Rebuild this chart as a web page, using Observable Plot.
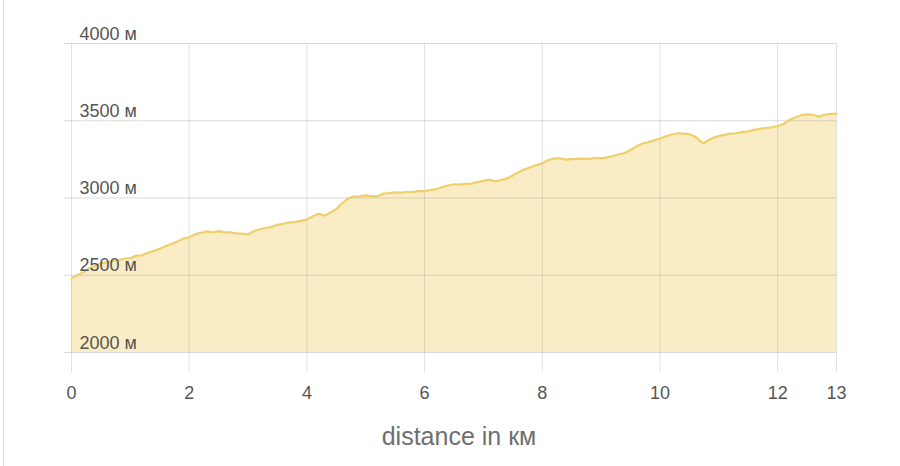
<!DOCTYPE html>
<html>
<head>
<meta charset="utf-8">
<script src="https://cdn.jsdelivr.net/npm/d3@7"></script>
<script src="https://cdn.jsdelivr.net/npm/@observablehq/plot@0.6"></script>
<style>
  html, body { margin: 0; padding: 0; background: #fff; }
  #wrap { position: relative; width: 900px; height: 466px; }
  #border { position: absolute; left: 3px; top: 0; width: 1px; height: 466px; background: #dcdcdc; }
</style>
</head>
<body>
<div id="wrap"><div id="border"></div></div>
<script>
// distance along route (km)
const distanceKm = [
  0.0, 0.1, 0.2, 0.3, 0.4, 0.5, 0.6, 0.7, 0.8, 0.9,
  1.0, 1.1, 1.2, 1.3, 1.4, 1.5, 1.6, 1.7, 1.8, 1.9,
  2.0, 2.1, 2.2, 2.3, 2.4, 2.5, 2.6, 2.7, 2.8, 2.9,
  3.0, 3.1, 3.2, 3.3, 3.4, 3.5, 3.6, 3.7, 3.8, 3.9,
  4.0, 4.1, 4.2, 4.3, 4.4, 4.5, 4.6, 4.7, 4.8, 4.9,
  5.0, 5.1, 5.2, 5.3, 5.4, 5.5, 5.6, 5.7, 5.8, 5.9,
  6.0, 6.1, 6.2, 6.3, 6.4, 6.5, 6.6, 6.7, 6.8, 6.9,
  7.0, 7.1, 7.2, 7.3, 7.4, 7.5, 7.6, 7.7, 7.8, 7.9,
  8.0, 8.1, 8.2, 8.3, 8.4, 8.5, 8.6, 8.7, 8.8, 8.9,
  9.0, 9.1, 9.2, 9.3, 9.4, 9.5, 9.6, 9.7, 9.8, 9.9,
  10.0, 10.1, 10.2, 10.3, 10.4, 10.5, 10.6, 10.7, 10.75, 10.8, 10.9,
  11.0, 11.1, 11.2, 11.3, 11.4, 11.5, 11.6, 11.7, 11.8, 11.9,
  12.0, 12.1, 12.2, 12.3, 12.4, 12.5, 12.6, 12.7, 12.8, 12.9, 13.0
];
// elevation (m)
const elevationM = [
  2480, 2502, 2518, 2546, 2558, 2577, 2583, 2592, 2598, 2607,
  2610, 2627, 2629, 2646, 2658, 2672, 2688, 2702, 2718, 2737,
  2745, 2766, 2774, 2784, 2777, 2786, 2779, 2777, 2771, 2769,
  2764, 2786, 2798, 2806, 2813, 2827, 2833, 2842, 2844, 2852,
  2860, 2882, 2898, 2886, 2906, 2928, 2966, 2997, 3009, 3011,
  3017, 3011, 3010, 3029, 3031, 3036, 3035, 3039, 3039, 3044,
  3045, 3051, 3057, 3071, 3081, 3089, 3087, 3091, 3093, 3103,
  3111, 3119, 3107, 3116, 3125, 3146, 3167, 3186, 3199, 3213,
  3224, 3246, 3256, 3256, 3249, 3251, 3255, 3253, 3253, 3259,
  3257, 3263, 3271, 3283, 3291, 3311, 3334, 3353, 3361, 3373,
  3384, 3399, 3411, 3419, 3417, 3413, 3397, 3363, 3355, 3369, 3389,
  3401, 3409, 3417, 3419, 3426, 3431, 3441, 3447, 3453, 3457,
  3466, 3479, 3506, 3521, 3536, 3541, 3539, 3527, 3539, 3544, 3545
];
const xTicks = [0, 2, 4, 6, 8, 10, 12, 13];
const yTicks = [2000, 2500, 3000, 3500, 4000];
const yUnit = "м";
const xLabel = "distance in км";

const data = distanceKm.map((d, i) => ({km: d, elev: elevationM[i]}));
const font = "'Liberation Sans', Arial, sans-serif";

const chart = Plot.plot({
  width: 900,
  height: 466,
  marginLeft: 71,
  marginRight: 64,
  marginTop: 43,
  marginBottom: 114,
  style: {fontFamily: font, background: "transparent"},
  x: {domain: [0, 13], axis: null},
  y: {domain: [2000, 4000], axis: null},
  marks: [
    Plot.areaY(data, {x: "km", y1: 2000, y2: "elev", fill: "#faedc6", curve: "linear"}),
    Plot.ruleX(xTicks, {x: d => d, y1: 4000, y2: 2000, stroke: "#888", strokeOpacity: 0.25}),
    Plot.ruleY(yTicks, {y: d => d, x1: 0, x2: 13, stroke: "#888", strokeOpacity: 0.3, insetLeft: -7}),
    Plot.lineY(data, {x: "km", y: "elev", stroke: "#efcf6a", strokeWidth: 2.2, strokeLinejoin: "round"}),
    Plot.axisX(xTicks, {
      tickSize: 20, tickPadding: 14, stroke: "#888", strokeOpacity: 0.25,
      fontSize: 18, fill: "#555", label: null, tickFormat: d => String(d)
    }),
    Plot.text(yTicks, {
      x: 0, y: d => d, text: d => `${d} ${yUnit}`,
      textAnchor: "start", lineAnchor: "bottom", dx: 8, dy: -4,
      fontSize: 18, fill: "#555"
    }),
    Plot.text([xLabel], {
      x: 6.5, y: 2000, text: d => d,
      dx: 5, dy: 84, fontSize: 25, fill: "#6f6f6f", lineAnchor: "middle"
    })
  ]
});
chart.style.position = "absolute";
chart.style.left = "0";
chart.style.top = "0";
document.getElementById("wrap").appendChild(chart);
</script>
</body>
</html>
